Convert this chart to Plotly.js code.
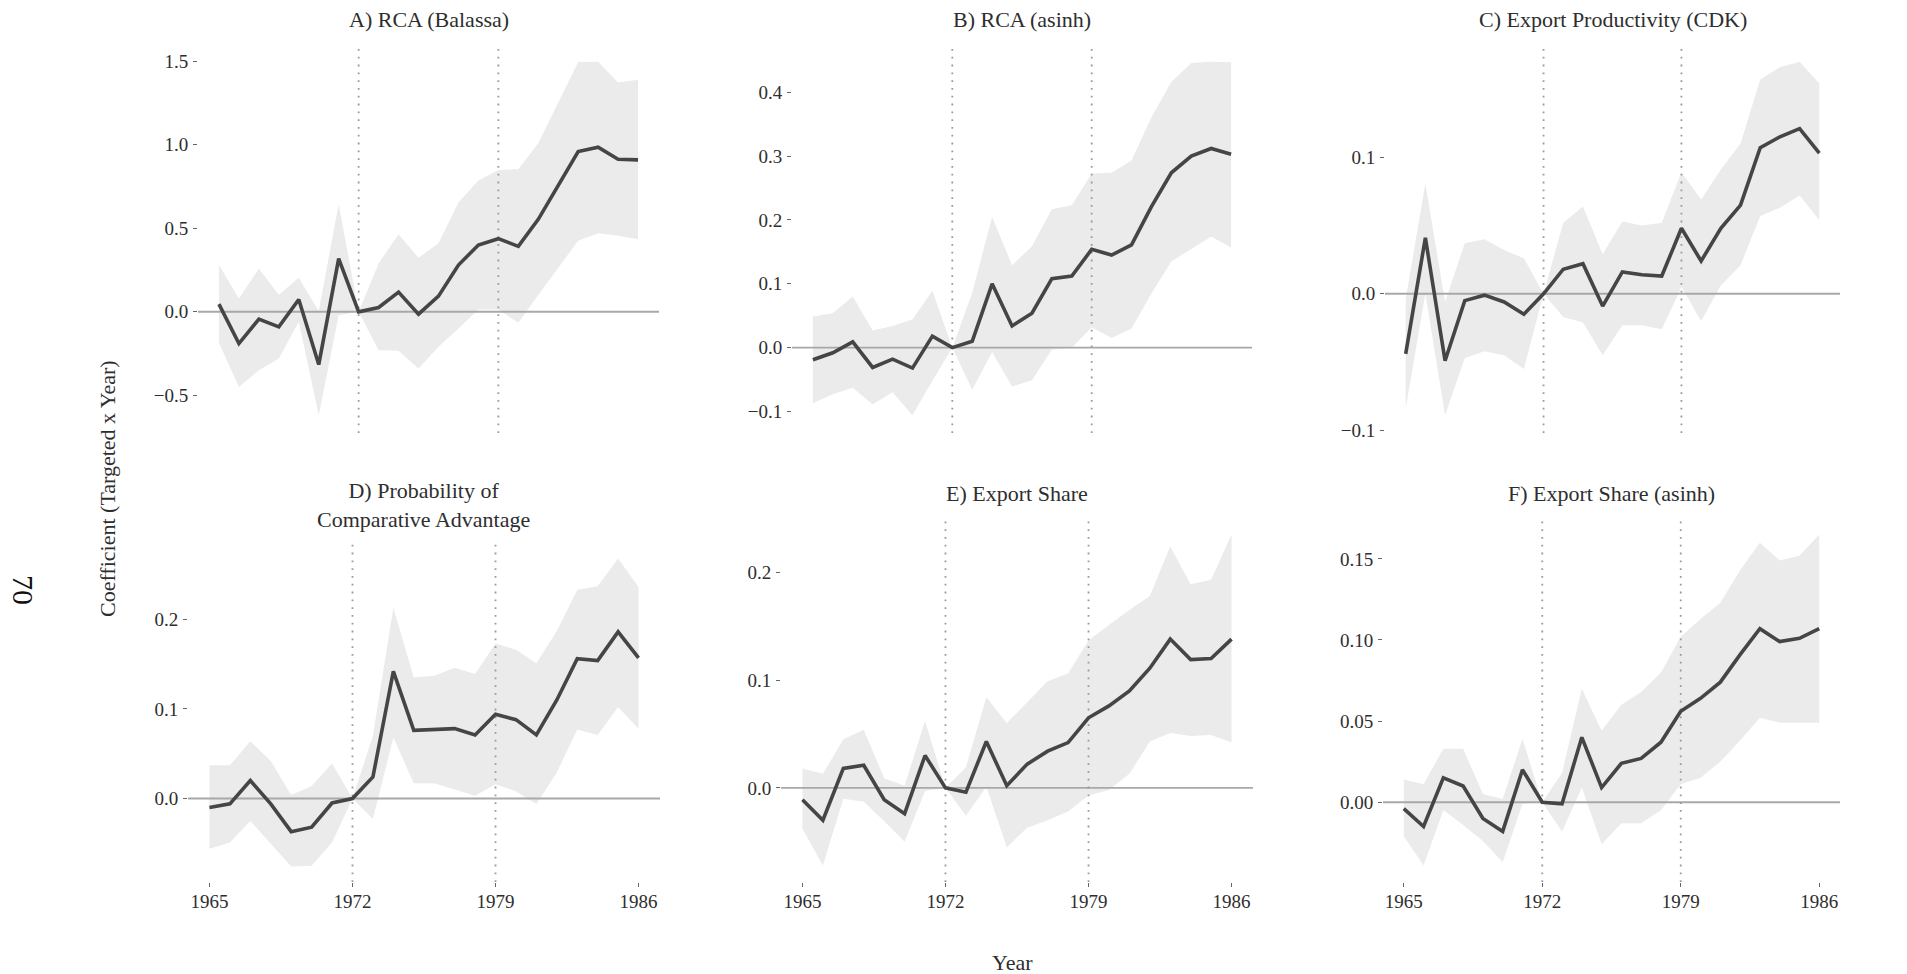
<!DOCTYPE html>
<html>
<head>
<meta charset="utf-8">
<script src="https://cdn.plot.ly/plotly-3.0.1.min.js"></script>
<style>
body { margin: 0; background: #fff; }
#graph { width: 1907px; height: 974px; }
</style>
</head>
<body>
<div id="graph"></div>
<script>
//////////////////////////////////////Data/////////////////////////////////
var years = [1965, 1966, 1967, 1968, 1969, 1970, 1971, 1972, 1973, 1974, 1975,
             1976, 1977, 1978, 1979, 1980, 1981, 1982, 1983, 1984, 1985, 1986];
var refYears = [1972, 1979];
var yearTicks = [1965, 1972, 1979, 1986];

var panelTitles = ['A) RCA (Balassa)', 'B) RCA (asinh)', 'C) Export Productivity (CDK)',
                   'D) Probability of<br>Comparative Advantage', 'E) Export Share', 'F) Export Share (asinh)'];

// A) RCA (Balassa)
var rcaBalassaCoef = [0.046, -0.19, -0.044, -0.09, 0.074, -0.316, 0.318, 0, 0.026, 0.118, -0.014,
                      0.094, 0.28, 0.40, 0.438, 0.392, 0.554, 0.76, 0.96, 0.986, 0.914, 0.91];
var rcaBalassaHi = [0.28, 0.08, 0.258, 0.102, 0.204, 0.005, 0.646, 0, 0.29, 0.464, 0.324,
                    0.41, 0.654, 0.786, 0.85, 0.854, 1.01, 1.25, 1.496, 1.498, 1.374, 1.39];
var rcaBalassaLo = [-0.186, -0.45, -0.35, -0.28, -0.06, -0.62, -0.02, 0, -0.23, -0.234, -0.34,
                    -0.21, -0.10, 0.014, 0.014, -0.066, 0.10, 0.26, 0.426, 0.47, 0.456, 0.434];

// B) RCA (asinh)
var rcaAsinhCoef = [-0.019, -0.008, 0.009, -0.031, -0.018, -0.032, 0.018, 0, 0.010, 0.100, 0.034,
                    0.054, 0.108, 0.112, 0.154, 0.145, 0.161, 0.221, 0.274, 0.300, 0.312, 0.303];
var rcaAsinhHi = [0.049, 0.054, 0.080, 0.027, 0.034, 0.044, 0.089, 0, 0.086, 0.205, 0.129,
                  0.159, 0.217, 0.223, 0.273, 0.274, 0.293, 0.361, 0.416, 0.446, 0.448, 0.447];
var rcaAsinhLo = [-0.087, -0.073, -0.063, -0.089, -0.070, -0.106, -0.052, 0, -0.066, -0.007, -0.061,
                  -0.051, -0.003, 0.0, 0.032, 0.015, 0.030, 0.085, 0.135, 0.154, 0.174, 0.157];

// C) Export Productivity (CDK)
var cdkCoef = [-0.044, 0.041, -0.049, -0.005, -0.001, -0.006, -0.015, 0, 0.018, 0.022, -0.009,
               0.016, 0.014, 0.013, 0.048, 0.024, 0.048, 0.065, 0.107, 0.115, 0.121, 0.103];
var cdkHi = [-0.004, 0.081, -0.006, 0.037, 0.040, 0.032, 0.026, 0, 0.052, 0.064, 0.029,
             0.053, 0.050, 0.052, 0.089, 0.069, 0.091, 0.110, 0.157, 0.166, 0.170, 0.154];
var cdkLo = [-0.084, 0.0, -0.089, -0.047, -0.042, -0.045, -0.055, 0, -0.017, -0.021, -0.045,
             -0.023, -0.023, -0.026, 0.005, -0.020, 0.006, 0.021, 0.057, 0.063, 0.072, 0.054];

// D) Probability of Comparative Advantage
var probCoef = [-0.010, -0.006, 0.020, -0.006, -0.037, -0.032, -0.005, 0, 0.024, 0.142, 0.076,
                0.077, 0.078, 0.071, 0.094, 0.088, 0.071, 0.110, 0.156, 0.154, 0.186, 0.157];
var probHi = [0.037, 0.037, 0.064, 0.042, 0.004, 0.014, 0.039, 0, 0.070, 0.213, 0.135,
              0.137, 0.146, 0.139, 0.173, 0.166, 0.151, 0.187, 0.233, 0.237, 0.268, 0.236];
var probLo = [-0.056, -0.049, -0.025, -0.051, -0.076, -0.075, -0.049, 0, -0.023, 0.068, 0.017,
              0.017, 0.010, 0.003, 0.016, 0.008, -0.006, 0.029, 0.077, 0.071, 0.102, 0.078];

// E) Export Share
var shareCoef = [-0.011, -0.030, 0.018, 0.021, -0.011, -0.024, 0.030, 0, -0.004, 0.043, 0.002,
                 0.022, 0.034, 0.042, 0.065, 0.076, 0.090, 0.111, 0.138, 0.119, 0.120, 0.138];
var shareHi = [0.018, 0.013, 0.045, 0.054, 0.009, 0.002, 0.062, 0, 0.019, 0.084, 0.060,
               0.080, 0.099, 0.106, 0.137, 0.151, 0.165, 0.178, 0.224, 0.189, 0.193, 0.235];
var shareLo = [-0.038, -0.072, -0.010, -0.013, -0.031, -0.050, -0.003, 0, -0.026, 0.001, -0.055,
               -0.037, -0.030, -0.022, -0.007, -0.002, 0.013, 0.043, 0.051, 0.048, 0.049, 0.042];

// F) Export Share (asinh)
var shareAsinhCoef = [-0.004, -0.015, 0.015, 0.010, -0.010, -0.018, 0.020, 0, -0.001, 0.040, 0.009,
                      0.024, 0.027, 0.037, 0.056, 0.064, 0.074, 0.091, 0.107, 0.099, 0.101, 0.107];
var shareAsinhHi = [0.014, 0.011, 0.033, 0.033, 0.005, 0.002, 0.039, 0, 0.018, 0.070, 0.044,
                    0.060, 0.068, 0.080, 0.102, 0.113, 0.123, 0.143, 0.160, 0.149, 0.152, 0.165];
var shareAsinhLo = [-0.021, -0.039, -0.005, -0.014, -0.024, -0.037, -0.001, 0, -0.018, 0.009, -0.026,
                    -0.013, -0.013, -0.005, 0.011, 0.015, 0.025, 0.038, 0.052, 0.049, 0.049, 0.049];

// y tick labels per panel
var ticksA = [-0.5, 0, 0.5, 1.0, 1.5];
var ticksB = [-0.1, 0, 0.1, 0.2, 0.3, 0.4];
var ticksC = [-0.1, 0, 0.1];
var ticksD = [0, 0.1, 0.2];
var ticksE = [0, 0.1, 0.2];
var ticksF = [0, 0.05, 0.10, 0.15];
var tickTextA = ['\u22120.5', '0.0', '0.5', '1.0', '1.5'];
var tickTextB = ['\u22120.1', '0.0', '0.1', '0.2', '0.3', '0.4'];
var tickTextC = ['\u22120.1', '0.0', '0.1'];
var tickTextD = ['0.0', '0.1', '0.2'];
var tickTextE = ['0.0', '0.1', '0.2'];
var tickTextF = ['0.00', '0.05', '0.10', '0.15'];

////////////////////////////Graph Section////////////////////////////////
var W = 1907, H = 974;
var FONT = 'Liberation Serif, Times New Roman, serif';
var TEXT = '#2e2e2e';

// panel boxes in pixels: [left, right, top, bottom]
var boxes = [
    [198, 659, 44, 433],
    [792, 1252, 44, 433],
    [1385, 1840, 44, 433],
    [188, 660, 543, 882],
    [781, 1253, 518, 882],
    [1383, 1840, 518, 882]
];

var panels = [
    {coef: rcaBalassaCoef, hi: rcaBalassaHi, lo: rcaBalassaLo, tv: ticksA, tt: tickTextA},
    {coef: rcaAsinhCoef, hi: rcaAsinhHi, lo: rcaAsinhLo, tv: ticksB, tt: tickTextB},
    {coef: cdkCoef, hi: cdkHi, lo: cdkLo, tv: ticksC, tt: tickTextC},
    {coef: probCoef, hi: probHi, lo: probLo, tv: ticksD, tt: tickTextD},
    {coef: shareCoef, hi: shareHi, lo: shareLo, tv: ticksE, tt: tickTextE},
    {coef: shareAsinhCoef, hi: shareAsinhHi, lo: shareAsinhLo, tv: ticksF, tt: tickTextF}
];

// ggplot style 5% expansion
function expand(lo, hi) {
    var pad = (hi - lo) * 0.05;
    return [lo - pad, hi + pad];
}

var xRange = expand(years[0], years[years.length - 1]);
var data = [];
var layout = {
    width: W,
    height: H,
    margin: {l: 0, r: 0, t: 0, b: 0},
    paper_bgcolor: '#ffffff',
    plot_bgcolor: 'rgba(0,0,0,0)',
    showlegend: false,
    hovermode: false,
    font: {family: FONT, color: TEXT, size: 19},
    annotations: []
};

for (var i = 0; i < panels.length; i++) {
    var p = panels[i];
    var n = i + 1;
    var xa = 'x' + (n === 1 ? '' : n);
    var ya = 'y' + (n === 1 ? '' : n);
    var yRange = expand(Math.min.apply(null, p.lo), Math.max.apply(null, p.hi));
    var b = boxes[i];
    var bottomRow = i >= 3;

    // confidence band
    data.push({x: years, y: p.lo, xaxis: xa, yaxis: ya, mode: 'lines',
               line: {width: 0, color: '#ebebeb'}});
    data.push({x: years, y: p.hi, xaxis: xa, yaxis: ya, mode: 'lines', fill: 'tonexty',
               fillcolor: '#ebebeb', line: {width: 0, color: '#ebebeb'}});
    // zero line
    data.push({x: xRange, y: [0, 0], xaxis: xa, yaxis: ya, mode: 'lines',
               line: {width: 1.9, color: '#a8a8a8'}});
    // reference years
    for (var r = 0; r < refYears.length; r++) {
        data.push({x: [refYears[r], refYears[r]], y: yRange, xaxis: xa, yaxis: ya, mode: 'lines',
                   line: {width: 1.8, color: '#9a9a9a', dash: '1.8px,6px'}});
    }
    // coefficient
    data.push({x: years, y: p.coef, xaxis: xa, yaxis: ya, mode: 'lines',
               line: {width: 3.6, color: '#454545'}});

    layout['xaxis' + (n === 1 ? '' : n)] = {
        domain: [b[0] / W, b[1] / W],
        anchor: ya,
        range: xRange,
        showgrid: false, zeroline: false, showline: false,
        tickvals: yearTicks,
        ticktext: yearTicks.map(String),
        showticklabels: bottomRow,
        ticks: bottomRow ? 'outside' : '',
        ticklen: 4, tickwidth: 1, tickcolor: '#666',
        ticklabelstandoff: -2,
        tickfont: {family: FONT, size: 19, color: TEXT}
    };
    layout['yaxis' + (n === 1 ? '' : n)] = {
        domain: [1 - b[3] / H, 1 - b[2] / H],
        anchor: xa,
        range: yRange,
        showgrid: false, zeroline: false, showline: false,
        tickvals: p.tv,
        ticktext: p.tt,
        ticks: 'outside',
        ticklen: 4, tickwidth: 1, tickcolor: '#666',
        ticklabelstandoff: 1,
        tickfont: {family: FONT, size: 19, color: TEXT}
    };

    layout.annotations.push({
        text: panelTitles[i],
        xref: xa + ' domain', yref: ya + ' domain',
        x: 0.5, y: 1, xanchor: 'center', yanchor: 'middle',
        yshift: i === 3 ? 38 : 25,
        showarrow: false,
        font: {family: FONT, size: 22, color: TEXT}
    });
}

// shared axis titles and page number
layout.annotations.push({
    text: 'Coefficient (Targeted x Year)',
    xref: 'paper', yref: 'paper', x: 107 / W, y: 1 - 489 / H,
    xanchor: 'center', yanchor: 'middle', textangle: -90, showarrow: false,
    font: {family: FONT, size: 22, color: TEXT}
});
layout.annotations.push({
    text: 'Year',
    xref: 'paper', yref: 'paper', x: 1012 / W, y: 1 - 962 / H,
    xanchor: 'center', yanchor: 'middle', showarrow: false,
    font: {family: FONT, size: 22, color: TEXT}
});
layout.annotations.push({
    text: '70',
    xref: 'paper', yref: 'paper', x: 24 / W, y: 1 - 590 / H,
    xanchor: 'center', yanchor: 'middle', textangle: 90, showarrow: false,
    font: {family: FONT, size: 30, color: '#111111'}
});

Plotly.newPlot('graph', data, layout, {staticPlot: true});
</script>
</body>
</html>
